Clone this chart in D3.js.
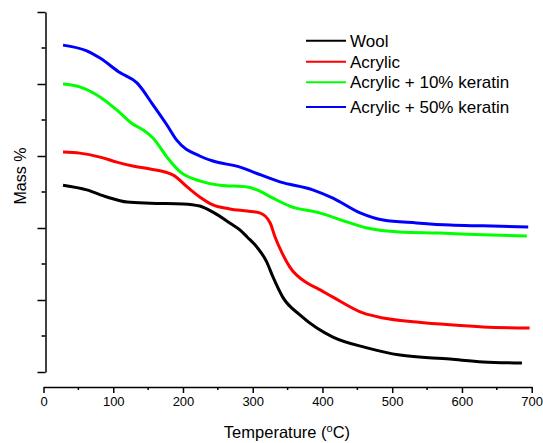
<!DOCTYPE html>
<meta charset="utf-8">
<script src="https://d3js.org/d3.v7.min.js"></script>
<style>
body { margin: 0; background: #fff; }
svg { font-family: Arial, "Liberation Sans", sans-serif; }
.axis path, .axis line { stroke: #000; stroke-width: 1.5px; }
.axis text { font-size: 13px; fill: #000; }
</style>
<body>
<script>

// temperature (°C) readings for each curve
var woolT    = [28, 62, 91, 120, 153, 200, 224, 243, 267, 282, 292, 306, 320, 329, 343, 368, 392, 415, 464, 511, 583, 630, 686];
var woolM    = [51.9, 50.6, 48.6, 47.2, 46.9, 46.7, 46.1, 44.4, 41.4, 39.4, 37.5, 34.7, 30.6, 26.4, 20.8, 15.8, 12.2, 9.7, 6.7, 4.7, 3.6, 2.8, 2.5];

var acrT     = [28, 52, 81, 105, 128, 153, 186, 206, 224, 243, 267, 292, 310, 325, 332, 342, 353, 378, 392, 415, 458, 487, 535, 583, 630, 697];
var acrM     = [61.1, 60.8, 59.7, 58.3, 57.2, 56.4, 54.7, 51.4, 48.6, 46.4, 45.3, 44.7, 44.2, 41.4, 37.5, 33.1, 29.2, 24.7, 23.3, 20.8, 16.4, 15, 13.9, 13.1, 12.5, 12.2];

var k10T     = [28, 52, 81, 105, 128, 143, 157, 177, 196, 224, 253, 292, 306, 329, 353, 396, 435, 464, 511, 568, 630, 693];
var k10M     = [80, 79.2, 76.4, 72.8, 68.9, 67.2, 65, 59.7, 55.6, 53.1, 51.9, 51.4, 50.6, 48.3, 46.1, 44.2, 41.7, 40, 38.9, 38.6, 38.1, 37.8];

var k50T     = [28, 62, 81, 110, 134, 157, 177, 191, 224, 243, 282, 300, 339, 386, 415, 454, 487, 535, 583, 630, 695];
var k50M     = [90.8, 89.2, 87.2, 83.1, 80.3, 74.2, 68.6, 64.4, 60, 58.6, 56.9, 55.6, 52.8, 50.6, 48.3, 44.2, 42.2, 41.4, 40.8, 40.6, 40.3];

var seriesNames  = ["Wool", "Acrylic", "Acrylic + 10% keratin", "Acrylic + 50% keratin"];
var seriesColors = ["#000000", "#ff0000", "#00ff00", "#0000ff"];
var xTicks = [0, 100, 200, 300, 400, 500, 600, 700];

var series = [
  { name: seriesNames[0], color: seriesColors[0], t: woolT, m: woolM },
  { name: seriesNames[1], color: seriesColors[1], t: acrT,  m: acrM },
  { name: seriesNames[2], color: seriesColors[2], t: k10T,  m: k10M },
  { name: seriesNames[3], color: seriesColors[3], t: k50T,  m: k50M }
];

var width = 543, height = 443;

var svg = d3.select("body").append("svg")
  .attr("width", width)
  .attr("height", height);

// scales
var xScale = d3.scaleLinear().domain([0, 700]).range([43.5, 531.7]);
var yScale = d3.scaleLinear().domain([0, 100]).range([372, 12]);

// x axis (sits below the plot, detached)
var xAxis = d3.axisBottom(xScale).tickValues(xTicks).tickSize(6).tickSizeOuter(0).tickPadding(4);
var xg = svg.append("g")
  .attr("class", "axis")
  .attr("transform", "translate(0,387)")
  .call(xAxis);

// minor x ticks
xg.selectAll(".minor")
  .data(d3.range(50, 700, 100))
  .enter().append("line")
  .attr("class", "minor")
  .attr("x1", function(d) { return xScale(d); })
  .attr("x2", function(d) { return xScale(d); })
  .attr("y1", 0).attr("y2", 3);

// y axis, no labels
var yAxis = d3.axisLeft(yScale).tickValues(d3.range(0, 101, 20)).tickSize(8).tickSizeOuter(0).tickFormat("");
var yg = svg.append("g")
  .attr("class", "axis")
  .attr("transform", "translate(45.5,0)")
  .call(yAxis);

yg.selectAll(".minor")
  .data(d3.range(10, 100, 20))
  .enter().append("line")
  .attr("class", "minor")
  .attr("x1", 0).attr("x2", -4)
  .attr("y1", function(d) { return yScale(d); })
  .attr("y2", function(d) { return yScale(d); });

// curves
var line = d3.line()
  .x(function(d) { return xScale(d[0]); })
  .y(function(d) { return yScale(d[1]); })
  .curve(d3.curveMonotoneX);

svg.selectAll(".curve")
  .data(series)
  .enter().append("path")
  .attr("class", "curve")
  .attr("fill", "none")
  .attr("stroke", function(d) { return d.color; })
  .attr("stroke-width", 3)
  .attr("stroke-linejoin", "round")
  .attr("d", function(d) { return line(d.t.map(function(t, i) { return [t, d.m[i]]; })); });

// axis titles
svg.append("text")
  .attr("x", 287).attr("y", 438)
  .attr("text-anchor", "middle")
  .style("font-size", "16.5px")
  .html('Temperature (<tspan dy="-6" font-size="11px">o</tspan><tspan dy="6">C)</tspan>');

svg.append("text")
  .attr("transform", "translate(26,176) rotate(-90)")
  .attr("text-anchor", "middle")
  .style("font-size", "16px")
  .text("Mass %");

// legend
var legendY = [40.7, 61.7, 82.3, 107];
var legend = svg.selectAll(".legend")
  .data(series)
  .enter().append("g")
  .attr("class", "legend")
  .attr("transform", function(d, i) { return "translate(306," + legendY[i] + ")"; });

legend.append("line")
  .attr("x1", 0).attr("x2", 40)
  .attr("stroke", function(d) { return d.color; })
  .attr("stroke-width", 2);

legend.append("text")
  .attr("x", 44).attr("y", 6)
  .style("font-size", "17px")
  .text(function(d) { return d.name; });

</script>
</body>
